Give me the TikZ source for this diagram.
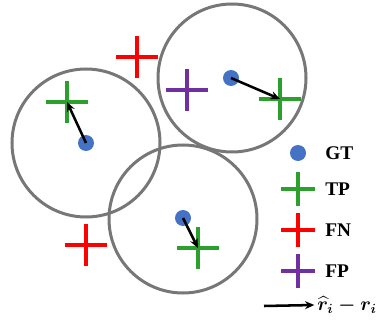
\documentclass[tikz,border=0pt]{standalone}
\usepackage{amsmath,amssymb,bm}
\usepackage{fontspec}
\setmainfont{Liberation Serif}
\usepackage{tikz}
\usetikzlibrary{arrows.meta,positioning,shapes.misc}
\definecolor{gtBlue}{HTML}{4472C4}
\definecolor{tpGreen}{HTML}{2CA02C}
\definecolor{fnRed}{HTML}{FF0000}
\definecolor{fpPurple}{HTML}{7030A0}
\definecolor{ringG}{HTML}{787676}
\tikzset{
  gtdot/.style={circle, fill=gtBlue, inner sep=0pt, minimum size=12pt},
  mark/.style={cross out, rotate=45, draw=#1, line width=3.6pt,
               inner sep=0pt, minimum size=19pt},
  keymark/.style={mark=#1, line width=3pt, minimum size=15pt},
  ring/.style={draw=ringG, line width=2.25pt},
  vec/.style={-{Stealth[length=7pt,width=6pt]}, line width=1.9pt, black},
  keylab/.style={anchor=west, inner sep=0pt,
                 font=\fontsize{14.5}{16}\selectfont\bfseries},
}
\begin{document}
\begin{tikzpicture}[x=0.75pt, y=-0.75pt]
  \useasboundingbox (0,0) rectangle (381,320);
  % matching circles round the ground truth points
  \draw[ring] (232,78) circle (74);
  \draw[ring] (86,143) circle (74);
  \draw[ring] (183,219) circle (74);
  \node[gtdot] (gtA) at (231,78) {};
  \node[gtdot] (gtB) at (86,143) {};
  \node[gtdot] (gtC) at (183,218) {};
  \node[mark=tpGreen] (tpA) at (280,99) {};
  \node[mark=tpGreen] (tpB) at (67,102) {};
  \node[mark=tpGreen] (tpC) at (198,248) {};
  \node[mark=fnRed] (fnA) at (137,57) {};
  \node[mark=fnRed] (fnB) at (86,245) {};
  \node[mark=fpPurple] (fpA) at (187,90) {};
  \draw[vec] (gtA.center) -- (tpA.center);
  \draw[vec] (gtB.center) -- (tpB.center);
  \draw[vec] (gtC.center) -- (tpC.center);
  % legend
  \node[gtdot] (kGT) at (298,153) {};
  \node[keymark=tpGreen] (kTP) at (298,189) {};
  \node[keymark=fnRed] (kFN) at (298,230) {};
  \node[keymark=fpPurple] (kFP) at (298,271) {};
  \node[keylab] (lGT) at (325,153) {GT};
  \node[keylab] (lTP) at (325,189) {TP};
  \node[keylab] (lFN) at (325,230) {FN};
  \node[keylab] (lFP) at (325,271) {FP};
  \coordinate (kvS) at (264,306);
  \node[keylab, inner sep=0pt, font=\fontsize{14.5}{16}\selectfont\boldmath]
    (lvec) at (317,305) {$\widehat{r}_i - r_i$};
  \draw[vec] (kvS) -- ([xshift=-2pt]lvec.west);
\end{tikzpicture}
\end{document}
